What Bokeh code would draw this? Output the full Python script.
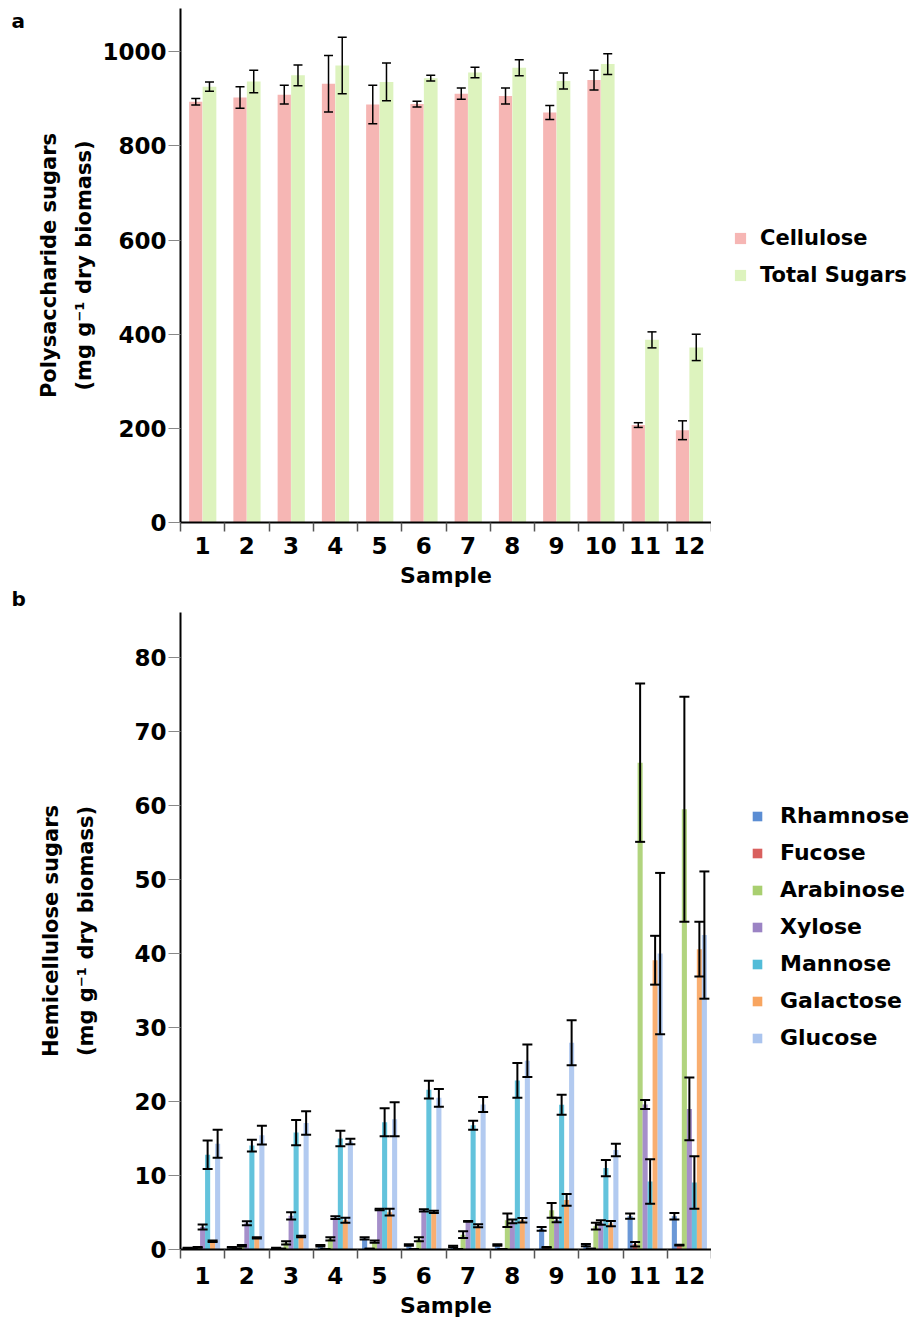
from bokeh.plotting import figure
from bokeh.models import (ColumnDataSource, Range1d, FixedTicker, Legend, LegendItem,
                          Whisker, TeeHead, Label)
from bokeh.transform import dodge
from bokeh.layouts import column, row
from bokeh.embed import file_html
from bokeh.resources import INLINE

# ---------------- data ----------------
samples = ["1", "2", "3", "4", "5", "6", "7", "8", "9", "10", "11", "12"]

cellulose = [894, 903, 909, 932, 888, 889, 911, 906, 871, 940, 207, 196]
cellulose_err = [7, 23, 20, 60, 41, 6, 12, 17, 15, 21, 5, 20]
total_sugars = [926, 937, 950, 971, 936, 944, 956, 966, 938, 974, 388, 372]
total_sugars_err = [10, 24, 22, 60, 40, 6, 11, 17, 17, 22, 17, 28]

rhamnose = [0.2, 0.3, 0.2, 0.5, 1.5, 0.6, 0.4, 0.6, 2.8, 0.6, 4.5, 4.5]
rhamnose_err = [0.05, 0.05, 0.05, 0.1, 0.15, 0.1, 0.1, 0.1, 0.25, 0.15, 0.35, 0.45]
fucose = [0.1, 0.1, 0.1, 0.05, 0.1, 0.05, 0.05, 0.05, 0.3, 0.1, 0.7, 0.6]
fucose_err = [0.05, 0.05, 0.0, 0.0, 0.0, 0.0, 0.0, 0.0, 0.05, 0.0, 0.3, 0.05]
arabinose = [0.3, 0.5, 0.9, 1.45, 1.05, 1.4, 2.0, 3.95, 5.3, 3.15, 65.8, 59.5]
arabinose_err = [0.05, 0.1, 0.22, 0.22, 0.15, 0.27, 0.45, 0.9, 1.0, 0.45, 10.7, 15.2]
xylose = [3.05, 3.55, 4.55, 4.3, 5.4, 5.3, 3.8, 3.8, 4.0, 3.65, 19.6, 19.0]
xylose_err = [0.34, 0.27, 0.5, 0.18, 0.1, 0.15, 0.05, 0.25, 0.3, 0.3, 0.6, 4.25]
mannose = [12.8, 14.05, 15.8, 15.0, 17.2, 21.6, 16.8, 22.85, 19.55, 11.0, 9.2, 9.05]
mannose_err = [1.93, 0.8, 1.7, 1.06, 1.9, 1.2, 0.6, 2.35, 1.35, 1.1, 3.0, 3.55]
galactose = [1.1, 1.57, 1.75, 3.95, 5.05, 5.1, 3.2, 3.95, 6.7, 3.5, 39.1, 40.6]
galactose_err = [0.1, 0.1, 0.1, 0.34, 0.47, 0.15, 0.2, 0.3, 0.8, 0.35, 3.3, 3.7]
glucose = [14.3, 15.45, 17.1, 14.6, 17.6, 20.5, 19.6, 25.5, 27.95, 13.45, 40.0, 42.5]
glucose_err = [1.9, 1.27, 1.6, 0.36, 2.3, 1.2, 1.0, 2.2, 3.05, 0.85, 10.9, 8.6]

a_ticks = [0, 200, 400, 600, 800, 1000]
b_ticks = [0, 10, 20, 30, 40, 50, 60, 70, 80]

# ---------------- styling ----------------
FONT = "DejaVu Sans"
xs = list(range(1, len(samples) + 1))
overrides = {x: s for x, s in zip(xs, samples)}

LAB_W, PLOT_W, LEG_W = 30, 681, 205
H_A, H_B = 590, 730
TOTAL_H = H_A + H_B


def style_axes(p, yticks, title_standoff, xlabel_standoff):
    p.xgrid.visible = False
    p.ygrid.visible = False
    p.outline_line_color = None
    p.background_fill_color = "white"
    p.border_fill_color = "white"

    xa = p.xaxis[0]
    xa.ticker = FixedTicker(ticks=xs, minor_ticks=[x - 0.5 for x in xs] + [xs[-1] + 0.5])
    xa.major_label_overrides = overrides
    xa.major_tick_line_color = None
    xa.major_tick_out = 0
    xa.major_tick_in = 0
    xa.minor_tick_out = 9
    xa.minor_tick_in = 0
    xa.minor_tick_line_color = "#555555"
    xa.minor_tick_line_width = 1.5
    xa.axis_line_color = "black"
    xa.axis_line_width = 2
    xa.major_label_standoff = xlabel_standoff
    xa.major_label_text_font = FONT
    xa.major_label_text_font_style = "bold"
    xa.major_label_text_font_size = "23px"
    xa.major_label_text_color = "black"
    xa.axis_label = "Sample"
    xa.axis_label_text_font = FONT
    xa.axis_label_text_font_style = "bold"
    xa.axis_label_text_font_size = "22px"
    xa.axis_label_text_color = "black"
    xa.axis_label_standoff = 6

    ya = p.yaxis[0]
    ya.ticker = FixedTicker(ticks=yticks)
    ya.minor_tick_line_color = None
    ya.major_tick_out = 12
    ya.major_tick_in = 0
    ya.major_tick_line_color = "#888888"
    ya.major_tick_line_width = 1
    ya.axis_line_color = "black"
    ya.axis_line_width = 2
    ya.major_label_standoff = 2
    ya.major_label_text_font = FONT
    ya.major_label_text_font_style = "bold"
    ya.major_label_text_font_size = "23px"
    ya.major_label_text_color = "black"
    ya.axis_label_text_font = FONT
    ya.axis_label_text_font_style = "bold"
    ya.axis_label_text_font_size = "21px"
    ya.axis_label_text_color = "black"
    ya.axis_label_text_line_height = 1.47
    ya.axis_label_standoff = title_standoff


def add_whisker(p, src, xfield, offset, lo, hi, lw, size):
    w = Whisker(source=src, base=dodge(xfield, offset), lower=lo, upper=hi,
                line_color="black", line_width=lw, level="overlay",
                upper_head=TeeHead(size=size, line_color="black", line_width=lw),
                lower_head=TeeHead(size=size, line_color="black", line_width=lw))
    p.add_layout(w)


def blank_fig(w, h):
    # ranges far away from the data so that the legend proxies draw nothing in the frame
    f = figure(width=w, height=h, min_border=0, x_axis_type=None, y_axis_type=None,
               x_range=Range1d(-200, -199), y_range=Range1d(-200, -199),
               toolbar_location=None, output_backend="svg")
    f.outline_line_color = None
    f.xgrid.visible = False
    f.ygrid.visible = False
    f.background_fill_color = "white"
    f.border_fill_color = "white"
    return f


# ---------------- panel a ----------------
pa = figure(width=PLOT_W, height=H_A,
            min_border_left=150, min_border_top=8, min_border_bottom=67, min_border_right=0,
            x_range=Range1d(0.5, 12.5), y_range=Range1d(0, 1092),
            toolbar_location=None, output_backend="svg")

src_a = ColumnDataSource(dict(
    x=xs,
    cel=cellulose,
    cel_lo=[v - e for v, e in zip(cellulose, cellulose_err)],
    cel_hi=[v + e for v, e in zip(cellulose, cellulose_err)],
    tot=total_sugars,
    tot_lo=[v - e for v, e in zip(total_sugars, total_sugars_err)],
    tot_hi=[v + e for v, e in zip(total_sugars, total_sugars_err)],
))

CEL_COL, TOT_COL = "#F6B6B4", "#DDF3BE"
pa.vbar(x=dodge("x", -0.155), top="cel", width=0.3, source=src_a,
        fill_color=CEL_COL, line_color=None)
pa.vbar(x=dodge("x", 0.155), top="tot", width=0.31, source=src_a,
        fill_color=TOT_COL, line_color=None)
add_whisker(pa, src_a, "x", -0.155, "cel_lo", "cel_hi", 1.5, 9)
add_whisker(pa, src_a, "x", 0.155, "tot_lo", "tot_hi", 1.5, 9)

style_axes(pa, a_ticks, 3, 5)
pa.yaxis[0].axis_label = "Polysaccharide sugars\n(mg g\u207b\u00b9 dry biomass)"

# ---------------- panel b ----------------
pb = figure(width=PLOT_W, height=H_B,
            min_border_left=150, min_border_top=22, min_border_bottom=70, min_border_right=0,
            x_range=Range1d(0.5, 12.5), y_range=Range1d(0, 86.1),
            toolbar_location=None, output_backend="svg")

series = [
    ("Rhamnose", rhamnose, rhamnose_err, "#5B8DD3"),
    ("Fucose", fucose, fucose_err, "#D9605E"),
    ("Arabinose", arabinose, arabinose_err, "#A9CF70"),
    ("Xylose", xylose, xylose_err, "#9B83C4"),
    ("Mannose", mannose, mannose_err, "#52BCD8"),
    ("Galactose", galactose, galactose_err, "#F8A560"),
    ("Glucose", glucose, glucose_err, "#AAC4EE"),
]

step = 0.113
b_sources = []
for i, (name, vals, errs, col) in enumerate(series):
    off = (i - 3) * step
    src = ColumnDataSource(dict(
        x=xs, top=vals,
        lo=[v - e for v, e in zip(vals, errs)],
        hi=[v + e for v, e in zip(vals, errs)],
    ))
    b_sources.append(src)
    pb.vbar(x=dodge("x", off), top="top", width=0.115, source=src,
            fill_color=col, line_color=None, fill_alpha=0.9)
    add_whisker(pb, src, "x", off, "lo", "hi", 2, 10)

style_axes(pb, b_ticks, 33, 8)
pb.yaxis[0].axis_label = "Hemicellulose sugars\n(mg g\u207b\u00b9 dry biomass)"

# ---------------- panel letters ----------------
lab = blank_fig(LAB_W, TOTAL_H)
for txt, top_y in (("a", 20), ("b", 598)):
    lab.add_layout(Label(x=11, y=TOTAL_H - top_y, x_units="screen", y_units="screen",
                         text=txt, text_font=FONT, text_font_style="bold",
                         text_font_size="20px", text_align="left",
                         text_baseline="middle", text_color="black"))

# ---------------- legends ----------------
leg = blank_fig(LEG_W, TOTAL_H)


def make_legend(fig, entries, loc, size, spacing, glyph, standoff):
    items = []
    for name, col, src, field in entries:
        # proxy renderer on the same data; the far-away ranges keep it out of the frame
        r = fig.vbar(x="x", top=field, width=0.1, source=src,
                     fill_color=col, line_color=None)
        items.append(LegendItem(label=name, renderers=[r]))
    lg = Legend(items=items, location=loc, orientation="vertical",
                margin=0, padding=0, spacing=spacing,
                glyph_width=glyph, glyph_height=glyph, label_standoff=standoff,
                label_text_font=FONT, label_text_font_style="bold",
                label_text_font_size=size, label_text_color="black",
                border_line_color=None, background_fill_alpha=0)
    fig.add_layout(lg)


make_legend(leg, [("Cellulose", CEL_COL, src_a, "cel"), ("Total Sugars", TOT_COL, src_a, "tot")],
            (22, TOTAL_H - 224 - 63), "21px", 13, 14, 13)
make_legend(leg, [(n, c, s, "top") for (n, _, _, c), s in zip(series, b_sources)],
            (40, TOTAL_H - 799 - 251), "22px", 12, 12, 17)

layout = row(lab, column(pa, pb), leg)
open("out.html", "w").write(file_html(layout, INLINE))
